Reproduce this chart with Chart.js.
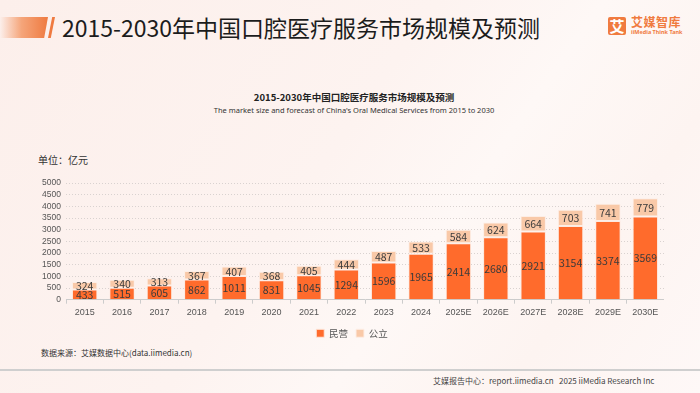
<!DOCTYPE html>
<html>
<head>
<meta charset="utf-8">
<script src="https://cdn.jsdelivr.net/npm/chart.js@4/dist/chart.umd.min.js"></script>
<style>
  html, body { margin: 0; padding: 0; }
  body {
    width: 700px; height: 393px; overflow: hidden; position: relative;
    font-family: "Noto Sans CJK SC", "Noto Sans", sans-serif;
    background: linear-gradient(125deg, #fcefeb 0%, #fdf3f0 45%, #fef8f6 62%, #fdf4f1 80%, #fef8f7 100%);
  }
  .abs { position: absolute; white-space: nowrap; }
  #bar1 { left: 0; top: 17px; width: 48px; height: 21px;
    background: linear-gradient(90deg, rgba(245,140,90,0) 0%, #f5a57a 45%, #ef7a40 100%);
    clip-path: polygon(0 0, 100% 0, 92% 100%, 0 100%); }
  #bar2 { left: 48px; top: 17px; width: 7px; height: 21px; background: #ef7a40;
    clip-path: polygon(60% 0, 100% 0, 40% 100%, 0 100%); }
  #title { left: 62px; top: 12px; font-size: 23px; color: #1c1c1c; line-height: 30px; }
  #logoBox { left: 608px; top: 17px; width: 18px; height: 18px; background: #f07b3f; border-radius: 2px;
    color: #fff; font-size: 15px; font-weight: bold; line-height: 18px; text-align: center; }
  #logoCn { left: 631px; top: 14px; font-size: 12px; font-weight: bold; color: #f07b3f; line-height: 16px; letter-spacing: 0.5px; }
  #logoEn { left: 631px; top: 29px; font-size: 5.5px; font-weight: bold; color: #f07b3f; line-height: 7px; font-family: "Noto Sans", sans-serif; }
  #ctitle { left: 0; width: 708px; top: 90px; text-align: center; font-size: 9.5px; font-weight: bold; color: #222; }
  #csub { left: 0; width: 708px; top: 105px; text-align: center; font-size: 7.5px; color: #333; font-family: "Noto Sans", sans-serif; }
  #unit { left: 38px; top: 152px; font-size: 10px; color: #333; }
  #source { left: 41px; top: 347px; font-size: 8px; color: #333; }
  #rule { left: 0; top: 369px; width: 700px; height: 2px; background: #cfcfcf; }
  #footer { left: 433px; top: 375px; font-size: 8px; color: #444; }
  #wrap { position: absolute; left: 40px; top: 172px; width: 624px; height: 176px; }
</style>
</head>
<body>
<div class="abs" id="bar1"></div>
<div class="abs" id="bar2"></div>
<div class="abs" id="title">2015-2030年中国口腔医疗服务市场规模及预测</div>
<div class="abs" id="logoBox">艾</div>
<div class="abs" id="logoCn">艾媒智库</div>
<div class="abs" id="logoEn">iiMedia Think Tank</div>
<div class="abs" id="ctitle">2015-2030年中国口腔医疗服务市场规模及预测</div>
<div class="abs" id="csub">The market size and forecast of China's Oral Medical Services from 2015 to 2030</div>
<div class="abs" id="unit">单位：亿元</div>
<div class="abs" id="source">数据来源：艾媒数据中心(data.iimedia.cn)</div>
<div class="abs" id="rule"></div>
<div class="abs" id="footer">艾媒报告中心：report.iimedia.cn &nbsp; 2025 iiMedia Research Inc</div>
<div id="wrap"><canvas id="myChart"></canvas></div>
<script>
const years = ['2015', '2016', '2017', '2018', '2019', '2020', '2021', '2022',
    '2023', '2024', '2025E', '2026E', '2027E', '2028E', '2029E', '2030E'];
const privateValues = [433, 515, 605, 862, 1011, 831, 1045, 1294, 1596, 1965, 2414, 2680, 2921, 3154, 3374, 3569];
const publicValues = [324, 340, 313, 367, 407, 368, 405, 444, 487, 533, 584, 624, 664, 703, 741, 779];
const yTicks = [0, 500, 1000, 1500, 2000, 2500, 3000, 3500, 4000, 4500, 5000];

// draw the numbers in the middle of each segment
const segmentLabels = {
    id: 'segmentLabels',
    afterDatasetsDraw(chart) {
        const ctx = chart.ctx;
        ctx.save();
        ctx.font = '10.5px "Noto Sans CJK SC", "Noto Sans", sans-serif';
        ctx.fillStyle = '#3b3b3b';
        ctx.textAlign = 'center';
        ctx.textBaseline = 'middle';
        chart.data.datasets.forEach((ds, i) => {
            const meta = chart.getDatasetMeta(i);
            meta.data.forEach((bar, j) => {
                const p = bar.getProps(['x', 'y', 'base'], true);
                ctx.fillText(ds.data[j], p.x, (p.y + p.base) / 2 + 0.5);
            });
        });
        ctx.restore();
    }
};

const ctx = document.getElementById('myChart').getContext('2d');
const myChart = new Chart(ctx, {
    type: 'bar',
    data: {
        labels: years,
        datasets: [{
            label: '民营',
            data: privateValues,
            backgroundColor: '#ff6b2c',
            borderColor: '#fde9df',
            borderWidth: 1,
            borderSkipped: 'bottom',
            categoryPercentage: 0.68,
            barPercentage: 1
        }, {
            label: '公立',
            data: publicValues,
            backgroundColor: '#f9c9a8',
            borderColor: '#fdeee6',
            borderWidth: 1,
            borderSkipped: false,
            categoryPercentage: 0.68,
            barPercentage: 1
        }]
    },
    options: {
        responsive: true,
        maintainAspectRatio: false,
        animation: false,
        layout: { padding: { top: 11, right: 0, left: 0, bottom: 0 } },
        scales: {
            x: {
                stacked: true,
                grid: { drawOnChartArea: false, tickLength: 4, color: '#cccccc' },
                border: { color: '#cccccc' },
                ticks: { color: '#555', padding: 3, font: { size: 9 } }
            },
            y: {
                stacked: true,
                min: 0,
                max: 5000,
                afterBuildTicks: (scale) => { scale.ticks = yTicks.map(v => ({ value: v })); },
                afterFit: (scale) => { scale.width = 26; },
                grid: { color: '#d9d2d0', drawTicks: false },
                border: { display: false, dash: [1, 2] },
                ticks: {
                    color: '#555', padding: 5, autoSkip: false, font: { size: 8.5 },
                    callback: (v) => String(v)
                }
            }
        },
        plugins: {
            legend: {
                position: 'bottom',
                labels: {
                    boxWidth: 8, boxHeight: 8, padding: 8, color: '#555',
                    font: { size: 9.5, family: '"Noto Sans CJK SC", sans-serif' }
                }
            },
            tooltip: { enabled: false }
        }
    },
    plugins: [segmentLabels]
});
</script>
</body>
</html>
